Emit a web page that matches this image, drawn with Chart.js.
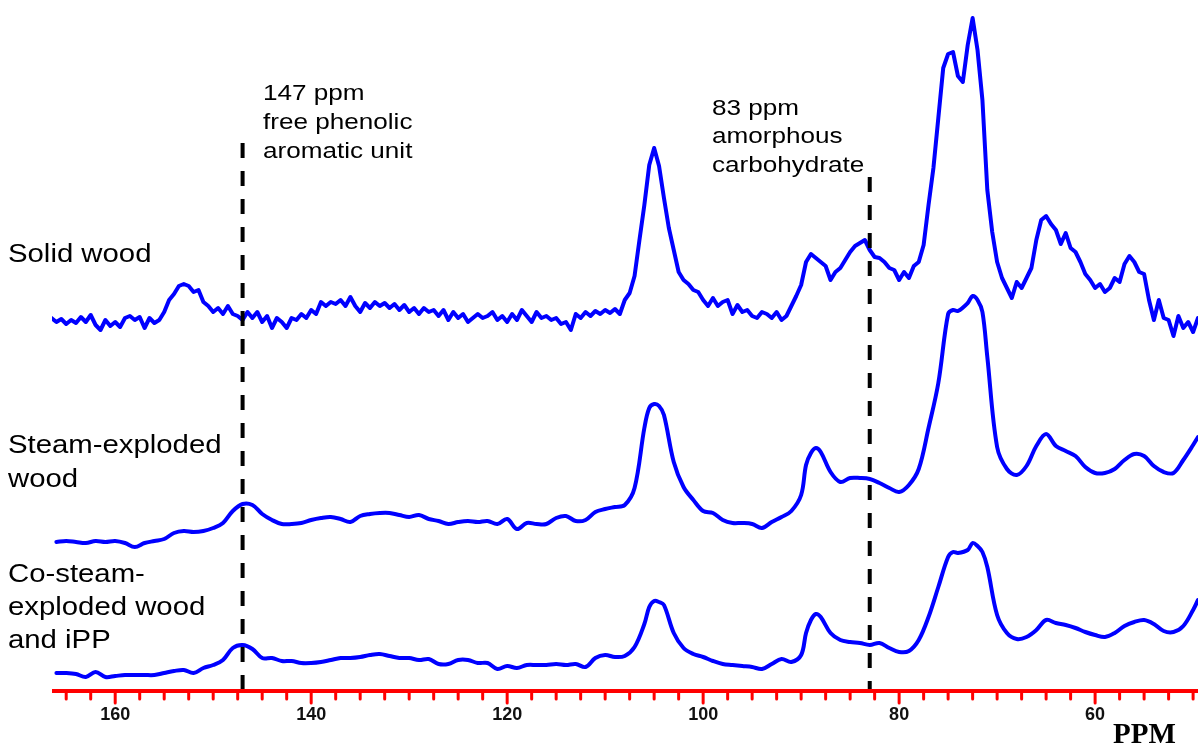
<!DOCTYPE html>
<html>
<head>
<meta charset="utf-8">
<script src="https://cdn.jsdelivr.net/npm/chart.js@4.4.1/dist/chart.umd.min.js"></script>
<style>
  html, body { margin: 0; padding: 0; background: #fff; }
  #wrap { width: 1198px; height: 745px; }
</style>
</head>
<body>
<div id="wrap"><canvas id="nmr" width="1198" height="745"></canvas></div>
<script>
// solid wood, sampled every 0.5 ppm from 166.5 down to 49.5
const solidInt = [
  12, 8, 11, 6, 10, 7, 13, 8, 15, 5,
  0, 10, 4, 8, 3, 12, 14, 10, 13, 2,
  12, 7, 10, 18, 30, 36, 44, 46, 44, 38,
  40, 28, 24, 18, 22, 16, 24, 16, 14, 10,
  18, 12, 18, 8, 14, 2, 12, 8, 2, 12,
  10, 16, 12, 20, 16, 28, 24, 28, 26, 30,
  24, 33, 24, 18, 27, 22, 28, 24, 27, 22,
  26, 20, 25, 18, 22, 16, 22, 18, 20, 14,
  20, 10, 18, 12, 16, 8, 12, 16, 12, 14,
  18, 10, 14, 8, 16, 10, 20, 14, 8, 18,
  12, 14, 10, 12, 6, 8, 0, 16, 12, 18,
  14, 19, 16, 20, 17, 21, 16, 30, 37, 54,
  90, 125, 165, 182, 164, 132, 102, 80, 58, 50,
  46, 40, 38, 30, 24, 32, 24, 28, 30, 16,
  25, 18, 20, 14, 12, 18, 16, 12, 18, 10,
  14, 24, 34, 45, 68, 76, 72, 68, 64, 50,
  58, 62, 70, 78, 84, 87, 90, 80, 73, 72,
  68, 62, 60, 50, 58, 52, 64, 68, 85, 125,
  162, 212, 262, 276, 278, 254, 248, 285, 312, 280,
  230, 140, 98, 68, 52, 42, 32, 48, 42, 52,
  62, 90, 110, 114, 106, 100, 86, 97, 82, 78,
  68, 56, 50, 42, 46, 38, 42, 52, 48, 66,
  74, 68, 58, 56, 30, 10, 30, 12, 10, -6,
  14, 2, 8, -2, 12
];
const solidPpm = solidInt.map((_, i) => 166.5 - i * 0.5);

// the two steam-exploded spectra share one ppm grid
const ppm = [
  166, 165, 164, 163, 162, 161, 160, 159, 158, 157, 156, 155, 154, 153, 152, 151, 150, 149, 148, 147,
  146, 145, 144, 143, 142, 141, 140, 139, 138, 137, 136, 135, 134, 133, 132, 131, 130, 129, 128, 127,
  126, 125, 124, 123, 122, 121, 120, 119, 118, 117, 116, 115, 114, 113, 112, 111, 110, 109, 108, 107,
  106, 105.5, 105, 104.5, 104, 103, 102, 101, 100, 99, 98, 97, 96, 95, 94, 93, 92, 91, 90,
  89.5, 89, 88.5, 88, 87, 86, 85, 84, 83, 82, 81, 80, 79, 78, 77, 76, 75, 74.5, 74,
  73, 72.5, 72, 71.5, 71, 70, 69, 68, 67, 66, 65, 64, 63, 62, 61, 60, 59, 58, 57, 56,
  55, 54, 53, 52, 51, 50, 49.5
];
const steamInt = [
  8, 9, 8, 7, 9, 8, 9, 7, 3, 7, 9, 11, 17, 19, 18, 19, 22, 27, 39, 46,
  45, 36, 30, 26, 26, 27, 30, 32, 33, 31, 28, 34, 36, 37, 37, 35, 33, 35, 31, 29,
  26, 28, 29, 28, 29, 26, 31, 21, 27, 26, 26, 32, 34, 29, 30, 38, 41, 43, 45, 62,
  122, 142, 146, 144, 135, 88, 63, 50, 39, 37, 30, 27, 27, 26, 22, 28, 33, 39, 55,
  85, 97, 102, 98, 78, 68, 72, 72, 71, 67, 62, 58, 65, 81, 122, 167, 236, 240, 239,
  247, 254, 250, 238, 193, 103, 81, 75, 84, 104, 116, 104, 99, 94, 83, 77, 77, 81, 90, 96,
  94, 84, 78, 77, 90, 105, 113
];
const coSteamInt = [
  7, 7, 6, 3, 8, 3, 4, 5, 5, 5, 5, 7, 9, 10, 7, 12, 15, 20, 32, 35,
  31, 22, 22, 19, 19, 17, 17, 18, 20, 22, 22, 23, 25, 26, 24, 22, 22, 20, 21, 16,
  16, 20, 20, 17, 17, 11, 14, 12, 15, 15, 15, 16, 15, 16, 13, 22, 25, 23, 24, 33,
  56, 73, 79, 78, 75, 47, 32, 26, 23, 19, 16, 15, 14, 13, 11, 16, 21, 18, 25,
  47, 60, 66, 63, 47, 40, 38, 37, 35, 37, 32, 28, 29, 40, 63, 93, 123, 128, 127,
  130, 137, 134, 128, 113, 65, 47, 41, 43, 50, 60, 57, 55, 52, 48, 45, 43, 47, 54, 58,
  60, 56, 49, 48, 54, 70, 80
];

// vertical stacking of the three traces
const solidOffset = 360;
const steamOffset = 140;
const coSteamOffset = 10;

const majorTicks = [160, 140, 120, 100, 80, 60];
const markerPpm = [147, 83];

const blue = 'rgb(0, 0, 255)';
const red = 'rgb(255, 0, 0)';

function toPoints(xs, ys, off) {
    return xs.map((p, i) => ({ x: p, y: ys[i] + off }));
}

// draw text a bit wider than the font, like the original figure
function wideText(ctx, txt, x, y, sx) {
    ctx.save();
    ctx.translate(x, y);
    ctx.scale(sx, 1);
    ctx.fillText(txt, 0, 0);
    ctx.restore();
}

const overlay = {
    id: 'overlay',
    afterDatasetsDraw(chart) {
        const ctx = chart.ctx;
        const x = chart.scales.x;
        const axisY = chart.chartArea.bottom + 1;
        const tops = [143, 177];

        ctx.save();
        // dashed marker lines
        ctx.strokeStyle = '#000';
        ctx.lineWidth = 4;
        ctx.setLineDash([15, 13]);
        markerPpm.forEach((p, i) => {
            const px = x.getPixelForValue(p);
            ctx.beginPath();
            ctx.moveTo(px, tops[i]);
            ctx.lineTo(px, axisY);
            ctx.stroke();
        });
        ctx.setLineDash([]);

        // red ppm axis with minor / major ticks
        ctx.strokeStyle = red;
        ctx.lineCap = 'round';
        ctx.lineWidth = 3;
        x.ticks.forEach(t => {
            const px = x.getPixelForValue(t.value);
            const len = majorTicks.includes(t.value) ? 12 : 8;
            ctx.beginPath();
            ctx.moveTo(px, axisY);
            ctx.lineTo(px, axisY + len);
            ctx.stroke();
        });
        ctx.lineCap = 'butt';
        ctx.lineWidth = 4;
        ctx.beginPath();
        ctx.moveTo(chart.chartArea.left, axisY);
        ctx.lineTo(chart.chartArea.right, axisY);
        ctx.stroke();

        // annotations
        ctx.fillStyle = '#000';
        ctx.textBaseline = 'alphabetic';
        ctx.font = '22.5px "Liberation Sans", Arial, sans-serif';
        wideText(ctx, '147 ppm', 263, 100, 1.16);
        wideText(ctx, 'free phenolic', 263, 129, 1.16);
        wideText(ctx, 'aromatic unit', 263, 158, 1.16);
        wideText(ctx, '83 ppm', 712, 115, 1.16);
        wideText(ctx, 'amorphous', 712, 143, 1.16);
        wideText(ctx, 'carbohydrate', 712, 172, 1.16);

        ctx.font = '25.5px "Liberation Sans", Arial, sans-serif';
        wideText(ctx, 'Solid wood', 8, 262, 1.15);
        wideText(ctx, 'Steam-exploded', 8, 453, 1.15);
        wideText(ctx, 'wood', 8, 487, 1.15);
        wideText(ctx, 'Co-steam-', 8, 582, 1.15);
        wideText(ctx, 'exploded wood', 8, 615, 1.15);
        wideText(ctx, 'and iPP', 8, 648, 1.15);

        ctx.font = 'bold 29px "Liberation Serif", "Times New Roman", serif';
        ctx.fillText('PPM', 1113, 743);
        ctx.restore();
    }
};

const ctxNmr = document.getElementById('nmr').getContext('2d');
new Chart(ctxNmr, {
    type: 'line',
    data: {
        datasets: [
            { label: 'Solid wood', data: toPoints(solidPpm, solidInt, solidOffset), tension: 0 },
            { label: 'Steam-exploded wood', data: toPoints(ppm, steamInt, steamOffset), tension: 0.35 },
            { label: 'Co-steam-exploded wood and iPP', data: toPoints(ppm, coSteamInt, coSteamOffset), tension: 0.35 }
        ].map(d => Object.assign(d, {
            borderColor: blue,
            borderWidth: 4,
            pointRadius: 0,
            fill: false,
            borderJoinStyle: 'round',
            borderCapStyle: 'round'
        }))
    },
    options: {
        responsive: false,
        animation: false,
        layout: { autoPadding: false, padding: { left: 52, right: 0, top: 0, bottom: 0 } },
        plugins: { legend: { display: false }, tooltip: { enabled: false } },
        scales: {
            x: {
                type: 'linear',
                reverse: true,
                min: 49.5,
                max: 166.45,
                grid: { display: false, drawTicks: false },
                border: { display: false },
                ticks: {
                    stepSize: 2.5,
                    includeBounds: false,
                    autoSkip: false,
                    maxRotation: 0,
                    padding: 14,
                    color: '#111',
                    font: { family: '"Liberation Sans", Arial, sans-serif', size: 18, weight: 'bold' },
                    callback: v => majorTicks.includes(v) ? String(v) : ''
                },
                afterFit: s => {
                    s.height = 55;
                    s.paddingLeft = 0;
                    s.paddingRight = 0;
                }
            },
            y: { display: false, min: 0, max: 690 }
        }
    },
    plugins: [overlay]
});
</script>
</body>
</html>
